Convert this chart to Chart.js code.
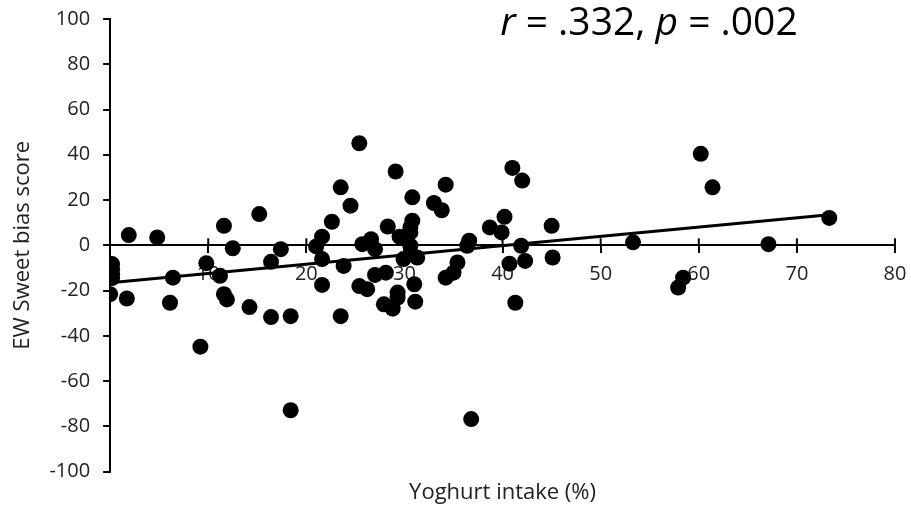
<!DOCTYPE html>
<html>
<head>
<meta charset="utf-8">
<script src="https://cdn.jsdelivr.net/npm/chart.js@4"></script>
<style>
  body { margin: 0; background: #fff; }
  #wrap { width: 911px; height: 508px; }
</style>
</head>
<body>
<div id="wrap"><canvas id="scatterChart"></canvas></div>
<script>
// Yoghurt intake (%) vs EW Sweet bias score
const intakeX = [
  0.2, 0.2, 0.2, 0.2, 0.0, 1.7, 1.9, 4.8, 6.4, 6.1,
  9.2, 9.8, 11.2, 11.6, 11.9, 11.6, 12.5, 14.2, 15.2, 16.4,
  16.4, 17.4, 18.4, 18.4, 21.0, 21.6, 21.6, 21.6, 22.6, 23.5,
  23.5, 23.8, 24.5, 25.4, 25.4, 25.7, 26.2, 26.6, 27.0, 27.0,
  27.9, 28.1, 28.3, 28.8, 29.1, 29.3, 29.3, 29.5, 29.9, 30.6,
  30.6, 30.8, 30.8, 31.0, 31.1, 31.3, 33.0, 33.8, 34.2, 34.2,
  35.0, 35.4, 36.4, 36.6, 36.8, 38.7, 39.9, 40.2, 40.7, 41.0,
  41.3, 41.9, 42.0, 42.3, 45.0, 45.1, 53.3, 57.9, 58.4, 60.2,
  61.4, 67.1, 73.3, 30.6
];
const biasY = [
  -8.3, -10.6, -12.8, -14.5, -21.6, -23.5, 4.5, 3.5, -14.3, -25.4,
  -44.8, -7.9, -13.5, -21.6, -23.9, 8.6, -1.3, -27.3, 13.8, -7.3,
  -31.7, -1.7, -31.3, -72.9, -0.5, 3.8, -6.1, -17.5, 10.4, 25.6,
  -31.3, -9.1, 17.5, 45.1, -18.0, 0.5, -19.4, 2.7, -1.7, -13.1,
  -26.1, -12.1, 8.3, -28.0, 32.6, -20.9, -23.1, 3.8, -6.1, 5.7,
  -0.2, 10.9, 21.2, -17.2, -24.9, -5.4, 18.7, 15.5, 26.8, -14.3,
  -12.1, -7.6, -0.2, 2.0, -76.8, 7.9, 5.7, 12.6, -8.1, 34.2,
  -25.4, -0.2, 28.6, -6.9, 8.6, -5.4, 1.3, -18.7, -14.3, 40.4,
  25.6, 0.5, 12.1, 7.9
];

// linear trendline end points
const trendX = [0, 73.3];
const trendY = [-16.5, 13.5];

const xTicks = [10, 20, 30, 40, 50, 60, 70, 80];
const statLabel = [['r', true], [' = .332, ', false], ['p', true], [' = .002', false]];

const fontFamily = "'Open Sans', 'Noto Sans', sans-serif";

// x axis sits on y = 0 with tick marks crossing it; Chart.js only draws the lower half
const crossTicks = {
  id: 'crossTicks',
  afterDraw(chart) {
    const ctx = chart.ctx;
    const xs = chart.scales.x;
    const y0 = chart.scales.y.getPixelForValue(0);
    ctx.save();
    ctx.strokeStyle = '#000';
    ctx.lineWidth = 2;
    xTicks.forEach(v => {
      const px = xs.getPixelForValue(v);
      ctx.beginPath();
      ctx.moveTo(px, y0 - 7);
      ctx.lineTo(px, y0);
      ctx.stroke();
    });
    ctx.restore();
  }
};

// stats label with italic r and p
const statText = {
  id: 'statText',
  afterDraw(chart) {
    const ctx = chart.ctx;
    let x = chart.chartArea.left + 390;
    const y = 35;
    ctx.save();
    ctx.fillStyle = '#000';
    ctx.textBaseline = 'alphabetic';
    statLabel.forEach(([txt, italic]) => {
      ctx.font = (italic ? 'italic ' : '') + '39px ' + fontFamily;
      ctx.fillText(txt, x, y);
      x += ctx.measureText(txt).width;
    });
    ctx.restore();
  }
};

// let layout.padding alone decide the outer margins
const noEdgePadding = (scale) => {
  scale.paddingTop = 0;
  scale.paddingRight = 0;
};

const ctx = document.getElementById('scatterChart').getContext('2d');
new Chart(ctx, {
  type: 'scatter',
  data: {
    datasets: [
      {
        type: 'line',
        label: 'Trend',
        data: trendX.map((x, i) => ({ x: x, y: trendY[i] })),
        borderColor: '#000',
        borderWidth: 3,
        pointRadius: 0,
        fill: false,
        order: 0
      },
      {
        label: 'Participants',
        data: intakeX.map((x, i) => ({ x: x, y: biasY[i] })),
        backgroundColor: '#000',
        borderWidth: 0,
        pointRadius: 8,
        order: 1
      }
    ]
  },
  options: {
    responsive: true,
    maintainAspectRatio: false,
    animation: false,
    layout: { padding: { left: 0, right: 16, top: 19, bottom: 2 } },
    plugins: {
      legend: { display: false },
      tooltip: { enabled: false }
    },
    scales: {
      x: {
        type: 'linear',
        position: { y: 0 },
        min: 0,
        max: 80,
        afterBuildTicks: (scale) => { scale.ticks = [0].concat(xTicks).map(v => ({ value: v })); },
        afterFit: noEdgePadding,
        ticks: {
          callback: (v) => (v === 0 ? '' : v),
          color: '#222',
          padding: 10,
          maxRotation: 0,
          font: { family: fontFamily, size: 20 }
        },
        grid: { drawOnChartArea: false, tickLength: 7, color: '#000', lineWidth: 2 },
        border: { color: '#000', width: 2 }
      },
      x2: {
        type: 'linear',
        position: 'bottom',
        min: 0,
        max: 80,
        afterFit: noEdgePadding,
        ticks: { display: false },
        grid: { display: false, drawTicks: false },
        border: { display: false },
        title: {
          display: true,
          text: 'Yoghurt intake (%)',
          color: '#222',
          padding: { top: 8, bottom: 0 },
          font: { family: fontFamily, size: 22 }
        }
      },
      y: {
        type: 'linear',
        position: 'left',
        min: -100,
        max: 100,
        afterFit: noEdgePadding,
        ticks: {
          stepSize: 20,
          color: '#222',
          padding: 13,
          font: { family: fontFamily, size: 20 }
        },
        grid: { drawOnChartArea: false, tickLength: 7, color: '#000', lineWidth: 2 },
        border: { color: '#000', width: 2 },
        title: {
          display: true,
          text: 'EW Sweet bias score',
          color: '#222',
          padding: { top: 10, bottom: 0 },
          font: { family: fontFamily, size: 22 }
        }
      }
    }
  },
  plugins: [crossTicks, statText]
});
</script>
</body>
</html>
